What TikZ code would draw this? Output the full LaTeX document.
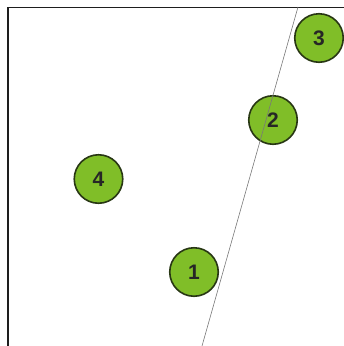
\documentclass[tikz,border=0pt]{standalone}
\usepackage{fontspec}
\setmainfont{Liberation Sans}
\definecolor{ballgreen}{RGB}{128,190,40}
\definecolor{balledge}{RGB}{40,55,20}
\definecolor{framec}{RGB}{30,30,30}
\definecolor{linegray}{RGB}{120,120,120}
\begin{document}
\begin{tikzpicture}[x=1pt,y=-1pt,
  ball/.style={circle,draw=balledge,line width=1.6pt,fill=ballgreen,minimum size=48.5pt,inner sep=0pt,
    font=\fontsize{21}{23}\selectfont\bfseries,text=black!85}]
\useasboundingbox (0,0) rectangle (344,346);
\draw[framec,line width=1.6pt] (344,7.5) -- (8,7.5) -- (8,346);
\node[ball] (n3) at (319,38) {3};
\node[ball] (n2) at (273,120) {2};
\node[ball] (n4) at (98.5,179) {4};
\node[ball] (n1) at (194,272) {1};
\coordinate (ltop) at (298,7);
\coordinate (lbot) at (202,346);
\draw[linegray,line width=0.6pt] (ltop) -- (lbot);
\end{tikzpicture}
\end{document}
